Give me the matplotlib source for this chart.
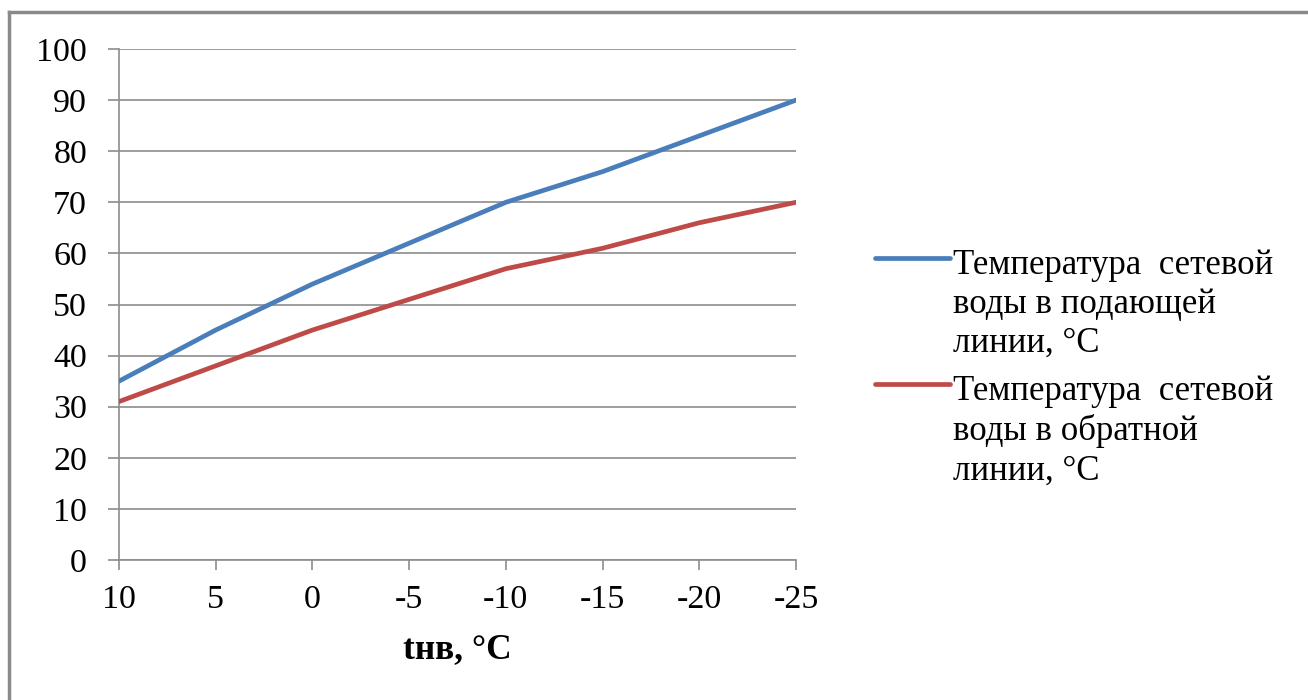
import matplotlib
matplotlib.use("Agg")
import matplotlib.pyplot as plt
from matplotlib.lines import Line2D

categories = ["10", "5", "0", "-5", "-10", "-15", "-20", "-25"]
supply = [35, 45, 54, 62, 70, 76, 83, 90]
ret = [31, 38, 45, 51, 57, 61, 66, 70]
yticks = [0, 10, 20, 30, 40, 50, 60, 70, 80, 90, 100]
labels = ["Температура  сетевой\nводы в подающей\nлинии, °C",
          "Температура  сетевой\nводы в обратной\nлинии, °C"]
colors = ["#4A7EBB", "#BE4B48"]
xlabel = "tнв, °C"

plt.rcParams['font.family'] = ['Liberation Serif', 'DejaVu Serif']

W, H = 1308, 700
fig = plt.figure(figsize=(W / 100, H / 100), dpi=100)
ax = fig.add_axes([119 / W, 1 - 560 / H, (796 - 119) / W, (560 - 49) / H])

x = list(range(len(categories)))
grid_c = "#8c8c8c"
LW = 3.4
for series, c in zip([supply, ret], colors):
    ax.plot(x, series, color=c, lw=LW, solid_capstyle="round", zorder=3)

ax.set_xlim(0, len(categories) - 1)
ax.set_ylim(0, 100)
ax.set_xticks(x)
ax.set_xticklabels(categories)
ax.set_yticks(yticks)
ax.set_yticklabels([str(v) for v in yticks])
ax.yaxis.grid(True, color=grid_c, lw=1.2)
ax.set_axisbelow(True)
for s in ["top", "right"]:
    ax.spines[s].set_visible(False)
for s in ["left", "bottom"]:
    ax.spines[s].set_color(grid_c)
    ax.spines[s].set_linewidth(1.2)
ax.tick_params(axis="both", colors=grid_c, width=1.2, labelsize=24.5,
               labelcolor="black")
ax.tick_params(axis="x", length=7, pad=10.5)
ax.tick_params(axis="y", length=8, pad=15)

ax.set_xlabel(xlabel, fontsize=25.5, fontweight="bold", labelpad=13)

# legend (manual, to keep handle aligned with first text line as in reference)
leg_y = [258, 384]
for lab, c, yy in zip(labels, colors, leg_y):
    fy = 1 - yy / H
    fig.add_artist(Line2D([875 / W, 950 / W], [fy, fy], transform=fig.transFigure,
                          color=c, lw=LW, solid_capstyle="round"))
    fig.text(953 / W, 1 - (yy - 9) / H, lab, fontsize=25, va="top", ha="left",
             linespacing=1.24)

# outer border
fig.add_artist(Line2D([9 / W, 9 / W], [0, 1 - 12 / H], transform=fig.transFigure,
                      color="#8a8a8a", lw=2.5))
fig.add_artist(Line2D([9 / W, 1], [1 - 12 / H, 1 - 12 / H], transform=fig.transFigure,
                      color="#8a8a8a", lw=2.5))

fig.savefig("out.png", dpi=100)
